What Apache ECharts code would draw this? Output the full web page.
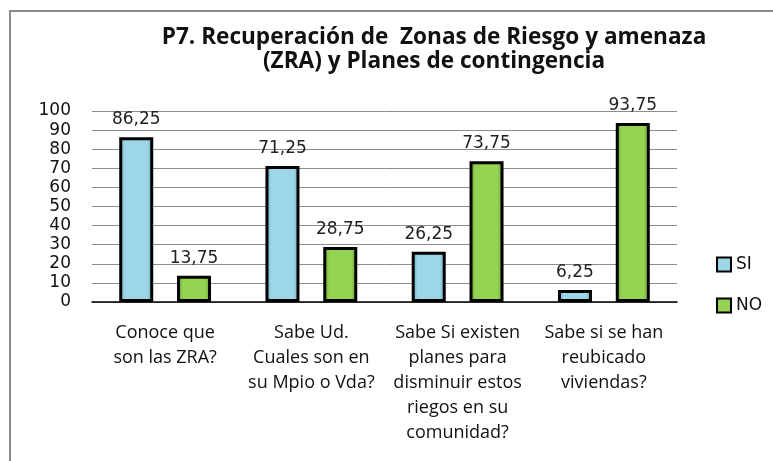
<!DOCTYPE html>
<html>
<head>
<meta charset="utf-8">
<script src="https://cdn.jsdelivr.net/npm/echarts@6/dist/echarts.min.js"></script>
<style>
    html, body { margin: 0; padding: 0; background: #fff; }
    #chart { width: 773px; height: 461px; }
</style>
</head>
<body>
<div id="chart"></div>
<script>
// datos del gráfico
const categorias = [
    'Conoce que\nson las ZRA?',
    'Sabe Ud.\nCuales son en\nsu Mpio o Vda?',
    'Sabe Si existen\nplanes para\ndisminuir estos\nriegos en su\ncomunidad?',
    'Sabe si se han\nreubicado\nviviendas?'
]
const valoresSi = [86.25, 71.25, 26.25, 6.25]
const valoresNo = [13.75, 28.75, 73.75, 93.75]
const ticksY = [0, 10, 20, 30, 40, 50, 60, 70, 80, 90, 100]

const fmt = p => String(p.value).replace('.', ',')

// degradado tipo bisel
function bisel(borde, centro) {
    return new echarts.graphic.LinearGradient(0, 0, 1, 0, [
        { offset: 0, color: borde },
        { offset: 0.18, color: centro },
        { offset: 0.82, color: centro },
        { offset: 1, color: borde }
    ])
}

const myChart = echarts.init(document.getElementById('chart'))
const options = {
    animation: false,
    title: {
        text: 'P7. Recuperación de  Zonas de Riesgo y amenaza\n(ZRA) y Planes de contingencia',
        left: 429,
        top: 21,
        textAlign: 'center',
        textStyle: {
            fontFamily: 'Open Sans',
            fontWeight: 'bold',
            fontSize: 22.6,
            lineHeight: 24,
            color: '#111'
        }
    },
    graphic: [{
        type: 'rect',
        shape: { x: 10, y: 11, width: 800, height: 500 },
        style: { fill: 'none', stroke: '#8a8a8a', lineWidth: 2 },
        silent: true
    }],
    grid: {
        left: 92,
        right: 96,
        top: 111,
        bottom: 159
    },
    legend: {
        orient: 'vertical',
        left: 711,
        top: 251,
        itemWidth: 14,
        itemHeight: 14,
        itemGap: 24,
        icon: 'rect',
        itemStyle: { borderColor: '#000', borderWidth: 2 },
        textStyle: { fontFamily: 'DejaVu Sans', fontSize: 17, color: '#111' },
        data: ['SI', 'NO']
    },
    xAxis: {
        type: 'category',
        data: categorias,
        axisLine: { lineStyle: { color: '#000', width: 1.5 } },
        axisTick: { show: false },
        axisLabel: {
            interval: 0,
            margin: 18,
            fontFamily: 'Open Sans',
            fontSize: 18,
            lineHeight: 25,
            color: '#111',
            align: 'center'
        }
    },
    yAxis: {
        type: 'value',
        min: 0,
        max: 100,
        interval: 10,
        axisLine: { show: false },
        axisTick: { show: false },
        splitLine: { lineStyle: { color: '#8c8c8c', width: 1 } },
        axisLabel: {
            margin: 21,
            fontFamily: 'DejaVu Sans',
            fontSize: 17,
            color: '#111',
            formatter: v => ticksY.includes(v) ? String(v) : ''
        }
    },
    series: [
        {
            name: 'SI',
            type: 'bar',
            data: valoresSi,
            barWidth: 34,
            barGap: '70%',
            itemStyle: {
                color: bisel('#6fa9bb', '#9dd6e8'),
                borderColor: '#000',
                borderWidth: 3
            },
            label: {
                show: true,
                position: 'top',
                distance: 9,
                fontFamily: 'DejaVu Sans',
                fontSize: 17,
                color: '#222',
                formatter: fmt
            }
        },
        {
            name: 'NO',
            type: 'bar',
            data: valoresNo,
            barWidth: 34,
            itemStyle: {
                color: bisel('#6c9e35', '#95d352'),
                borderColor: '#000',
                borderWidth: 3
            },
            label: {
                show: true,
                position: 'top',
                distance: 9,
                fontFamily: 'DejaVu Sans',
                fontSize: 17,
                color: '#222',
                formatter: fmt
            }
        }
    ]
}
myChart.setOption(options)
</script>
</body>
</html>
